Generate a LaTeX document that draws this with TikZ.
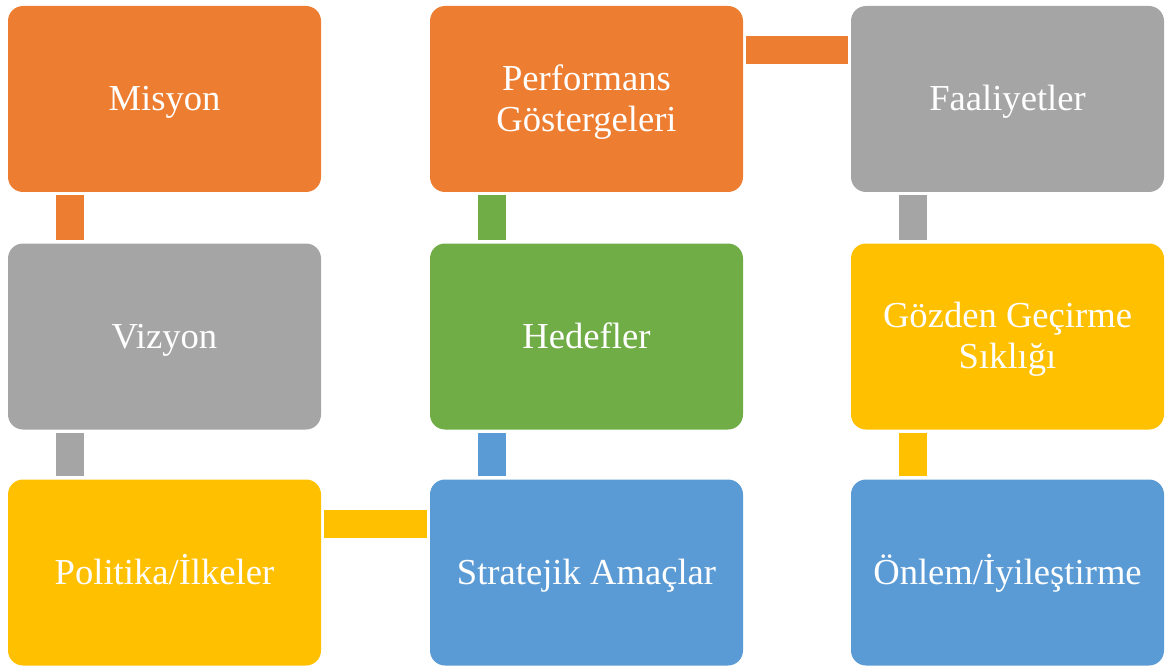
\documentclass[tikz,border=0pt]{standalone}
\usepackage{fontspec}
\setmainfont{Liberation Serif}
\definecolor{boxorange}{HTML}{ED7D31}
\definecolor{boxgray}{HTML}{A5A5A5}
\definecolor{boxyellow}{HTML}{FFC000}
\definecolor{boxblue}{HTML}{5B9BD5}
\definecolor{boxgreen}{HTML}{70AD47}
\begin{document}
\begin{tikzpicture}[x=1pt,y=1pt,
    box/.style={fill=#1, rounded corners=15pt, minimum width=313pt,
        minimum height=186pt, inner sep=0pt, text=white, align=center,
        text height=31pt, text depth=8pt,
        font=\fontsize{36.6}{41}\selectfont},
    twolines/.style={text height=, text depth=2pt},
    link/.style={draw=#1, line width=28pt}]
    \useasboundingbox (0,0) rectangle (1168,-666);
    % left column
    \node[box=boxorange] (misyon) at (164.5,-99) {Misyon};
    \node[box=boxgray] (vizyon) at (164.5,-336.5) {Vizyon};
    \node[box=boxyellow] (politika) at (164.5,-572.5) {Politika/İlkeler};
    % middle column
    \node[box=boxorange, twolines] (performans) at (586.5,-99) {Performans\\Göstergeleri};
    \node[box=boxgreen] (hedefler) at (586.5,-336.5) {Hedefler};
    \node[box=boxblue] (stratejik) at (586.5,-572.5) {Stratejik Amaçlar};
    % right column
    \node[box=boxgray] (faaliyetler) at (1007.5,-99) {Faaliyetler};
    \node[box=boxyellow, twolines] (gozden) at (1007.5,-336.5) {Gözden Geçirme\\Sıklığı};
    \node[box=boxblue] (onlem) at (1007.5,-572.5) {Önlem/İyileştirme};
    % connectors
    \draw[link=boxorange] ([shift={(62,-3)}]misyon.south west) -- ([shift={(62,3)}]vizyon.north west);
    \draw[link=boxgray] ([shift={(62,-3)}]vizyon.south west) -- ([shift={(62,3)}]politika.north west);
    \draw[link=boxyellow] ([shift={(3,-45)}]politika.north east) -- ([shift={(-3,-45)}]stratejik.north west);
    \draw[link=boxblue] ([shift={(62,3)}]stratejik.north west) -- ([shift={(62,-3)}]hedefler.south west);
    \draw[link=boxgreen] ([shift={(62,3)}]hedefler.north west) -- ([shift={(62,-3)}]performans.south west);
    \draw[link=boxorange] ([shift={(3,-44.5)}]performans.north east) -- ([shift={(-3,-44.5)}]faaliyetler.north west);
    \draw[link=boxgray] ([shift={(62,-3)}]faaliyetler.south west) -- ([shift={(62,3)}]gozden.north west);
    \draw[link=boxyellow] ([shift={(62,-3)}]gozden.south west) -- ([shift={(62,3)}]onlem.north west);
\end{tikzpicture}
\end{document}
